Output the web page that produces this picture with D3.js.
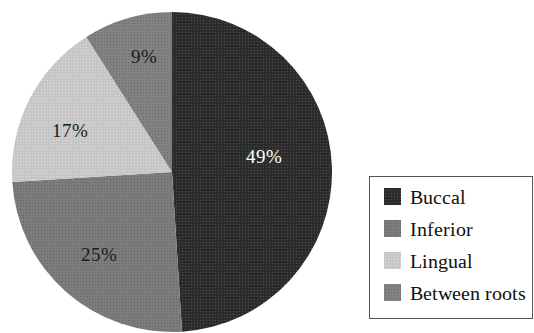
<!DOCTYPE html>
<html>
<head>
<meta charset="utf-8">
<script src="https://cdn.jsdelivr.net/npm/d3@7"></script>
<style>
  @font-face { font-family: "ChartSerif"; src: local("Liberation Serif"), local("LiberationSerif"), local("Times New Roman"); }
  html, body { margin: 0; padding: 0; background: #fff; }
  svg { display: block; }
  svg text { font-family: "ChartSerif", "Liberation Serif", "Times New Roman", serif !important; }
</style>
</head>
<body>
<svg id="chart" width="534" height="333"></svg>
<script>
const categories = ["Buccal", "Inferior", "Lingual", "Between roots"];
const values = [49, 25, 17, 9];
const labels = ["49%", "25%", "17%", "9%"];
const colors = ["#2b2b2b", "#7c7c7c", "#c6c6c6", "#818181"];
const dotColors = ["#6a6a6a", "#555555", "#f0f0f0", "#5a5a5a"];
const labelColors = ["#ffffff", "#1a1a1a", "#1a1a1a", "#1a1a1a"];

const svg = d3.select("#chart");
const cx = 172, cy = 172, r = 160;

// halftone-like textures
const defs = svg.append("defs");
colors.forEach((c, i) => {
  const p = defs.append("pattern")
    .attr("id", "pat" + i)
    .attr("patternUnits", "userSpaceOnUse")
    .attr("width", 3).attr("height", 3);
  p.append("rect").attr("width", 3).attr("height", 3).attr("fill", c);
  p.append("rect").attr("x", 1).attr("y", 1).attr("width", 1).attr("height", 1)
    .attr("fill", dotColors[i]).attr("opacity", 0.6);
});

const pie = d3.pie().sort(null).value(d => d)(values);
const arc = d3.arc().innerRadius(0).outerRadius(r);

svg.selectAll("path.slice").data(pie).enter().append("path")
  .attr("class", "slice")
  .attr("transform", `translate(${cx},${cy})`)
  .attr("d", arc)
  .attr("fill", (d, i) => `url(#pat${i})`);

const labelPos = [[92, -16], [-73, 82], [-102, -42], [-28, -116]];
labels.forEach((t, i) => {
  svg.append("text")
    .attr("x", cx + labelPos[i][0])
    .attr("y", cy + labelPos[i][1] + 7)
    .attr("text-anchor", "middle")
    .attr("font-size", 19)
    .attr("fill", labelColors[i])
    .text(t);
});

// Legend
svg.append("rect")
  .attr("x", 369.5).attr("y", 176.5)
  .attr("width", 163).attr("height", 142)
  .attr("fill", "#fff").attr("stroke", "#555").attr("stroke-width", 1);
categories.forEach((c, i) => {
  const y = 196 + i * 32;
  svg.append("rect")
    .attr("x", 384).attr("y", y - 8).attr("width", 17).attr("height", 17)
    .attr("fill", `url(#pat${i})`);
  svg.append("text")
    .attr("x", 410).attr("y", y + 8)
    .attr("font-size", 20)
    .attr("fill", "#111")
    .text(c);
});
</script>
</body>
</html>
